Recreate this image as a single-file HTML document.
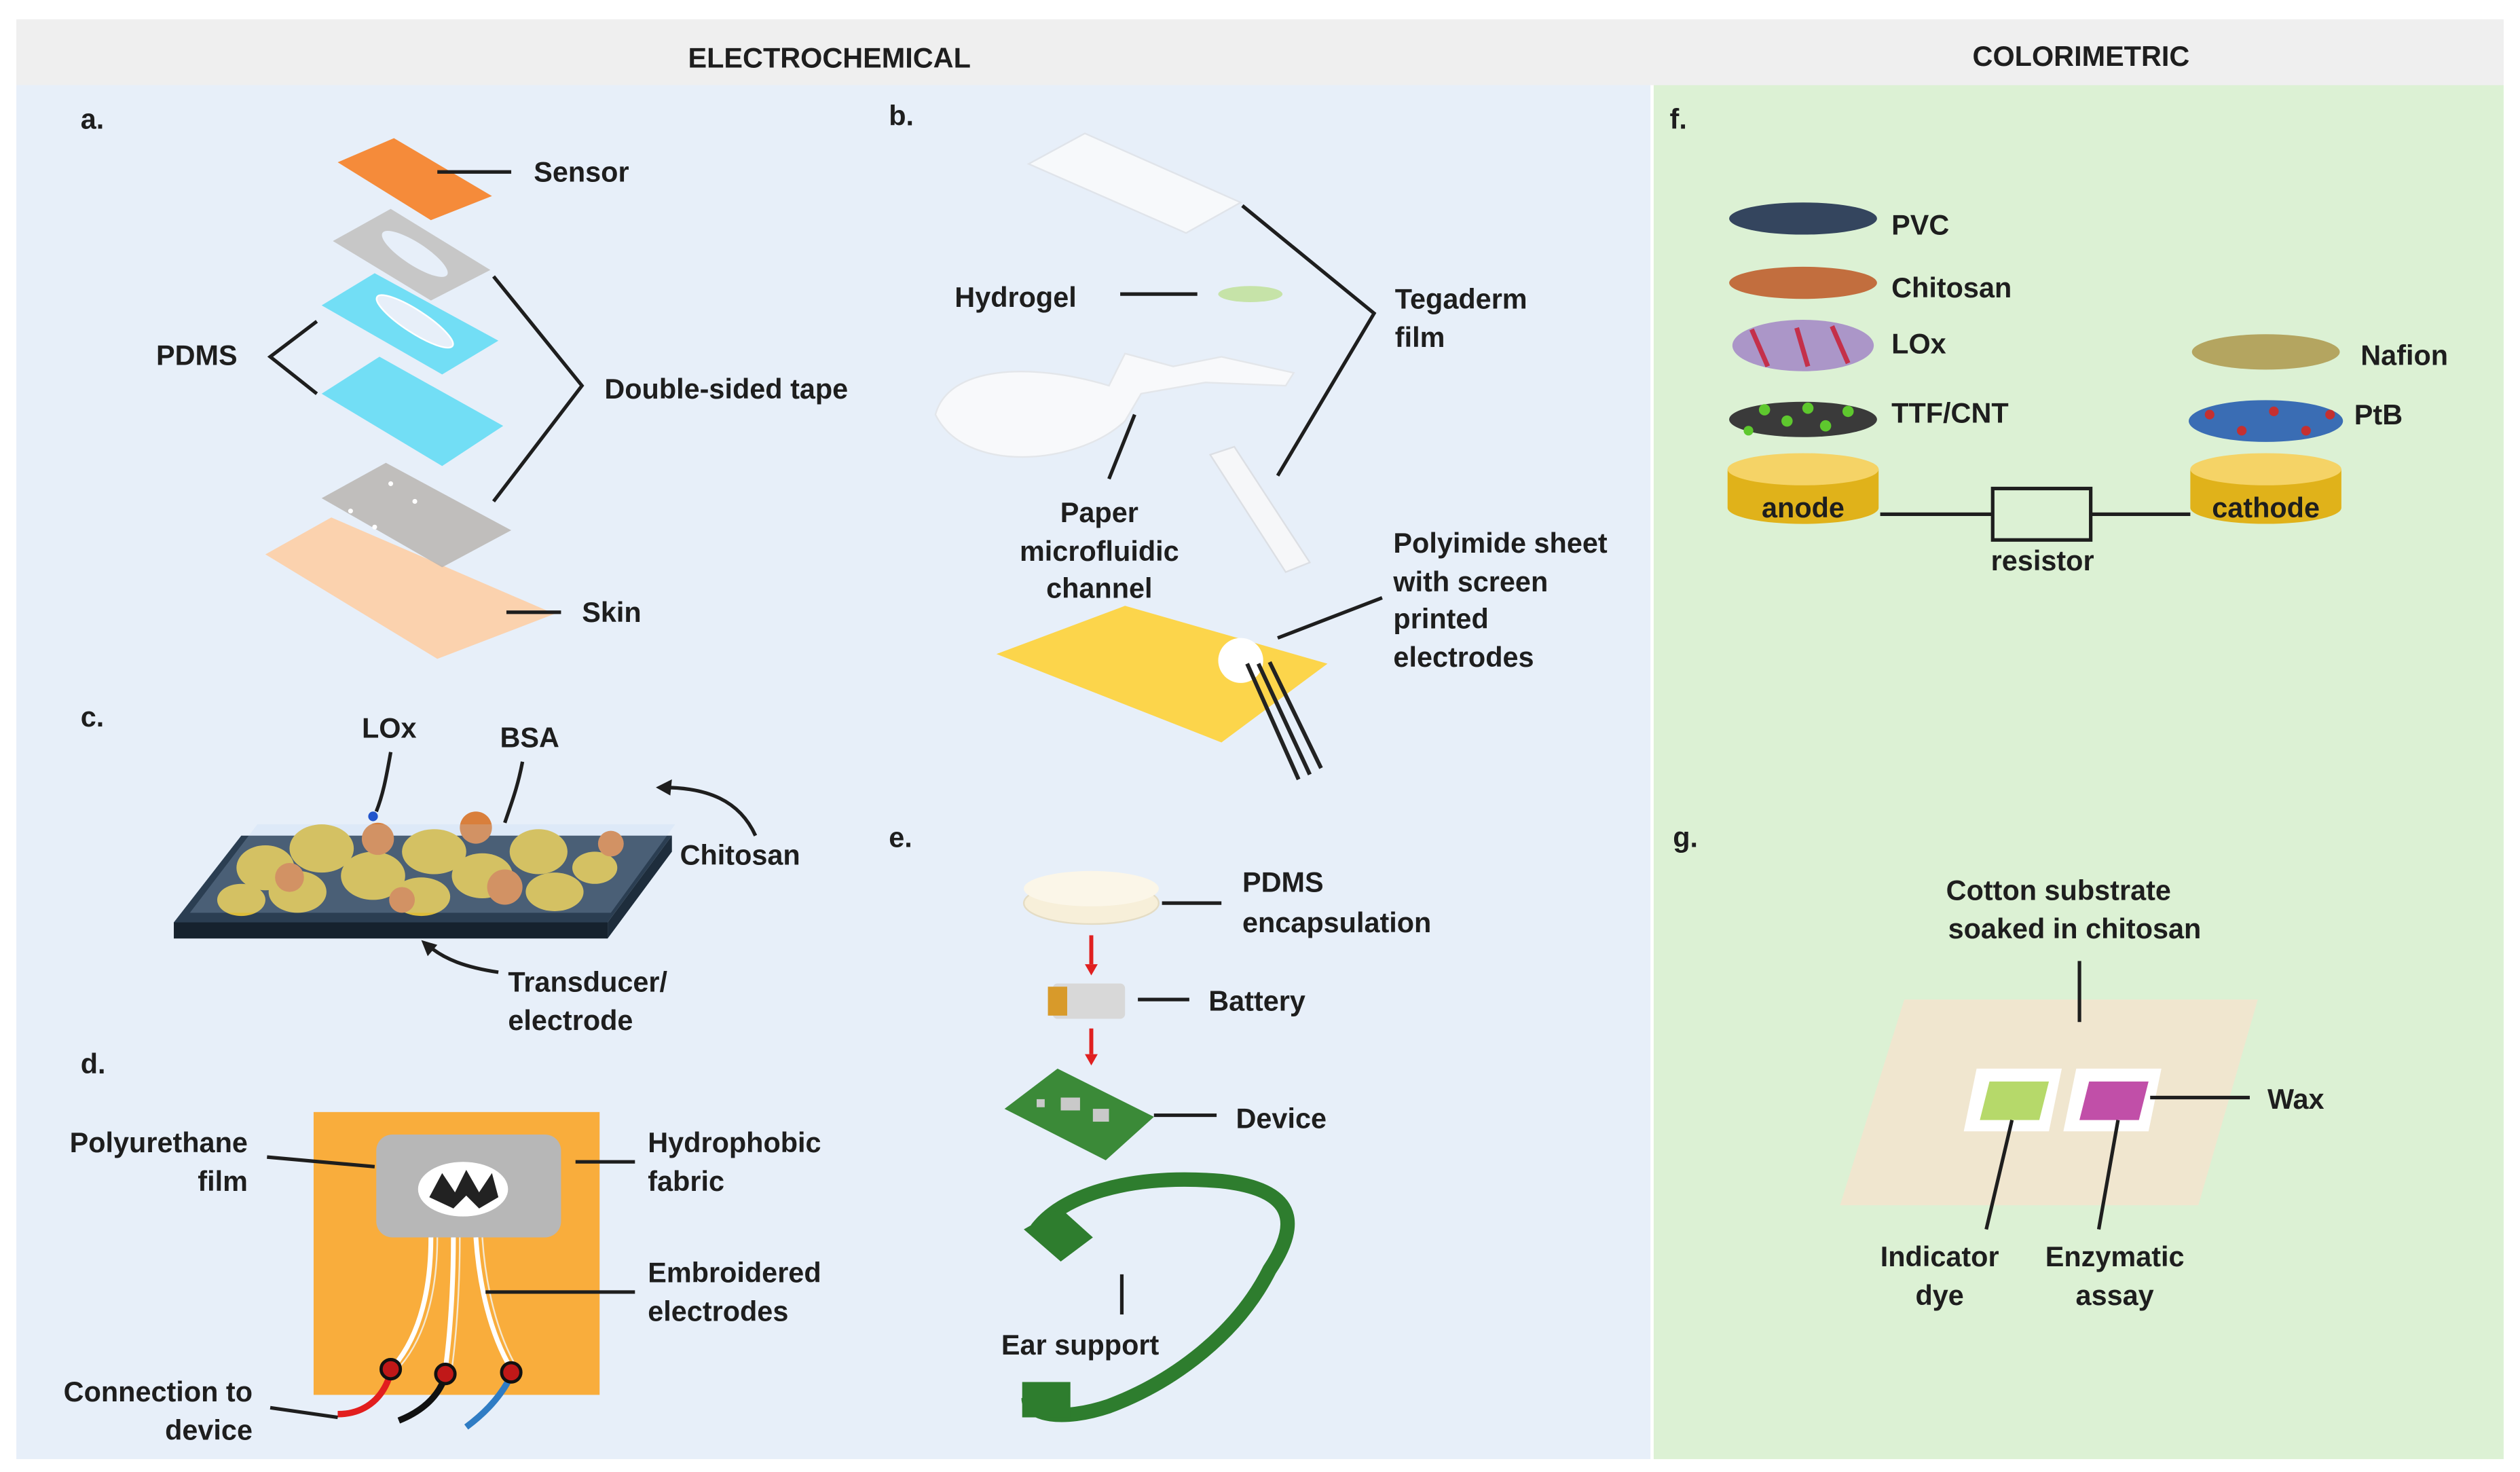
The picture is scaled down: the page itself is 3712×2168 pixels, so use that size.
<!DOCTYPE html>
<html><head><meta charset="utf-8"><style>
html,body{margin:0;padding:0;background:#fff}
svg{display:block}
text{font-family:"Liberation Sans",Arial,sans-serif;font-weight:bold;fill:#1e1e1e;font-size:17.5px}
</style></head><body>
<svg width="3712" height="2168" viewBox="0 0 1568 916" xmlns="http://www.w3.org/2000/svg">
<rect width="1568" height="916" fill="#fff"/>
<rect x="10" y="12" width="1548" height="41" fill="#efefef"/>
<rect x="10" y="53" width="1017" height="855" fill="#e7eff9"/>
<rect x="1029" y="53" width="529" height="855" fill="#dcf1d4"/>
<text x="516" y="42" text-anchor="middle" font-size="19">ELECTROCHEMICAL</text>
<text x="1295" y="41" text-anchor="middle" font-size="19">COLORIMETRIC</text>

<g font-size="17"><text x="50" y="80">a.</text><text x="553" y="78">b.</text><text x="50" y="452">c.</text><text x="50" y="668">d.</text><text x="553" y="527">e.</text><text x="1039" y="80">f.</text><text x="1041" y="527">g.</text></g>

<!-- panel a -->
<polygon points="165,345 206,322 345,382 272,410" fill="#fbd2ae"/>
<polygon points="200,310 240,288 318,330 275,353" fill="#b9b5b2" opacity="0.85"/>
<g fill="#fff"><circle cx="218" cy="318" r="1.5"/><circle cx="243" cy="301" r="1.5"/><circle cx="258" cy="312" r="1.5"/><circle cx="233" cy="328" r="1.5"/></g>
<polygon points="200,245 236,222 313,265 275,290" fill="#72def5"/>
<polygon points="200,190 233,170 310,212 275,233" fill="#72def5"/>
<ellipse cx="258" cy="200" rx="28" ry="7" transform="rotate(33 258 200)" fill="#e7eff9" stroke="#fff"/>
<polygon points="207,150 243,130 305,168 268,187" fill="#c7c7c7"/>
<ellipse cx="258" cy="158" rx="24" ry="7" transform="rotate(33 258 158)" fill="#e7eff9"/>
<polygon points="210,101 245,86 306,122 268,137" fill="#f58b3a"/>
<g stroke="#1e1e1e" stroke-width="2.2" fill="none">
<line x1="272" y1="107" x2="318" y2="107"/>
<polyline points="197,200 168,222 197,245"/>
<polyline points="307,172 362,240 307,312"/>
<line x1="315" y1="381" x2="349" y2="381"/>
</g>
<text x="332" y="113">Sensor</text><text x="97" y="227">PDMS</text><text x="376" y="248">Double-sided tape</text><text x="362" y="387">Skin</text>

<!-- panel b -->
<polygon points="640,102 675,83 772,126 738,145" fill="#f7f9fb" stroke="#e0e4ea"/>
<ellipse cx="778" cy="183" rx="20" ry="5" fill="#c6e3a8"/>
<path d="M582,258 C590,228 640,225 690,240 L700,220 L730,228 L760,222 L805,232 L800,240 L750,238 L710,245 L700,262 C670,290 600,295 582,258Z" fill="#f8f9fb" stroke="#e3e6ea"/>
<polygon points="753,283 768,278 815,350 800,356" fill="#f6f7f9" stroke="#dcdfe4"/>
<polygon points="620,407 700,377 826,413 760,462" fill="#fcd54b"/>
<circle cx="772" cy="411" r="14" fill="#fff"/>
<g stroke="#222" stroke-width="2.5"><line x1="776" y1="413" x2="808" y2="485"/><line x1="783" y1="413" x2="815" y2="482"/><line x1="790" y1="412" x2="822" y2="478"/></g>
<g stroke="#1e1e1e" stroke-width="2.2" fill="none">
<line x1="697" y1="183" x2="745" y2="183"/>
<polyline points="773,128 855,195 795,296"/>
<line x1="706" y1="258" x2="690" y2="298"/>
<line x1="795" y1="397" x2="860" y2="372"/>
</g>
<text x="594" y="191">Hydrogel</text><text x="868" y="192">Tegaderm</text><text x="868" y="216">film</text>
<g text-anchor="middle"><text x="684" y="325">Paper</text><text x="684" y="349">microfluidic</text><text x="684" y="372">channel</text></g>
<text x="867" y="344">Polyimide sheet</text><text x="867" y="368">with screen</text><text x="867" y="391">printed</text><text x="867" y="415">electrodes</text>

<!-- panel c -->
<polygon points="108,574 150,520 418,520 378,574" fill="#2b3e52"/>
<polygon points="108,574 378,574 378,584 108,584" fill="#16222e"/>
<polygon points="378,574 418,520 418,530 378,584" fill="#1e2d3c"/>
<g fill="#dcbc3a">
<ellipse cx="165" cy="540" rx="18" ry="14"/><ellipse cx="200" cy="528" rx="20" ry="15"/><ellipse cx="185" cy="555" rx="18" ry="13"/><ellipse cx="232" cy="545" rx="20" ry="15"/><ellipse cx="270" cy="530" rx="20" ry="14"/><ellipse cx="262" cy="558" rx="18" ry="12"/><ellipse cx="300" cy="545" rx="19" ry="14"/><ellipse cx="335" cy="530" rx="18" ry="14"/><ellipse cx="345" cy="555" rx="18" ry="12"/><ellipse cx="150" cy="560" rx="15" ry="10"/><ellipse cx="370" cy="540" rx="14" ry="10"/></g>
<g fill="#d97f3c"><circle cx="235" cy="522" r="10"/><circle cx="296" cy="515" r="10"/><circle cx="314" cy="552" r="11"/><circle cx="180" cy="546" r="9"/><circle cx="380" cy="525" r="8"/><circle cx="250" cy="560" r="8"/></g>
<polygon points="118,568 160,513 420,513 380,568" fill="#bcd8f5" opacity="0.22"/>
<circle cx="232" cy="508" r="3" fill="#2255cc"/>
<g stroke="#1e1e1e" stroke-width="2.2" fill="none">
<path d="M243,468 C240,485 238,495 234,505"/><path d="M325,474 C322,490 318,500 314,512"/>
<path d="M470,520 C460,498 440,490 412,490"/><path d="M310,605 C290,602 276,597 266,588"/>
</g>
<polygon points="408,490 418,485 417,495" fill="#1e1e1e"/>
<polygon points="262,585 272,588 266,595" fill="#1e1e1e"/>
<text x="225" y="459">LOx</text><text x="311" y="465">BSA</text><text x="423" y="538">Chitosan</text><text x="316" y="617">Transducer/</text><text x="316" y="641">electrode</text>

<!-- panel d -->
<rect x="195" y="692" width="178" height="176" fill="#f9ad3c"/>
<rect x="234" y="706" width="115" height="64" rx="10" fill="#b7b7b7"/>
<ellipse cx="288" cy="740" rx="28" ry="17" fill="#fff"/>
<path d="M267,745 L275,730 L283,742 L290,728 L298,742 L306,730 L310,745 L298,752 L290,744 L282,752Z" fill="#222"/>
<g stroke="#fff" stroke-width="3" fill="none"><path d="M268,770 C268,800 262,830 245,850"/><path d="M282,770 C282,800 280,830 277,852"/><path d="M296,770 C298,800 305,830 318,852"/></g>
<g stroke="#f5e8d0" stroke-width="1" fill="none"><path d="M272,770 C272,800 266,830 249,850"/><path d="M286,770 C286,800 284,830 281,852"/><path d="M300,770 C302,800 309,830 322,852"/></g>
<path d="M243,854 C238,872 225,880 210,880" stroke="#e21e1e" stroke-width="4" fill="none"/>
<path d="M277,856 C272,872 258,880 248,884" stroke="#111" stroke-width="4" fill="none"/>
<path d="M318,856 C310,872 298,882 290,888" stroke="#2f7cc4" stroke-width="4" fill="none"/>
<g fill="#c01818" stroke="#111" stroke-width="2"><circle cx="243" cy="852" r="6"/><circle cx="277" cy="855" r="6"/><circle cx="318" cy="854" r="6"/></g>
<g stroke="#1e1e1e" stroke-width="2.2" fill="none">
<line x1="166" y1="720" x2="233" y2="726"/><line x1="358" y1="723" x2="395" y2="723"/>
<line x1="302" y1="804" x2="395" y2="804"/><line x1="168" y1="876" x2="210" y2="882"/>
</g>
<g text-anchor="end"><text x="154" y="717">Polyurethane</text><text x="154" y="741">film</text><text x="157" y="872">Connection to</text><text x="157" y="896">device</text></g>
<text x="403" y="717">Hydrophobic</text><text x="403" y="741">fabric</text><text x="403" y="798">Embroidered</text><text x="403" y="822">electrodes</text>

<!-- panel e -->
<ellipse cx="679" cy="562" rx="42" ry="13" fill="#f7efd9" stroke="#e4dcc4"/>
<ellipse cx="679" cy="553" rx="42" ry="11" fill="#fbf6e8"/>
<line x1="679" y1="582" x2="679" y2="600" stroke="#e02020" stroke-width="2.5"/><polygon points="675,600 683,600 679,607" fill="#e02020"/>
<line x1="679" y1="640" x2="679" y2="656" stroke="#e02020" stroke-width="2.5"/><polygon points="675,656 683,656 679,663" fill="#e02020"/>
<rect x="655" y="612" width="45" height="22" rx="3" fill="#d8d8d8"/><rect x="652" y="614" width="12" height="18" fill="#d89a2a"/>
<polygon points="625,690 658,665 718,695 688,722" fill="#3b8a38"/>
<g fill="#c9c9c9"><rect x="660" y="683" width="12" height="8"/><rect x="680" y="690" width="10" height="8"/><rect x="645" y="684" width="5" height="5"/></g>
<path d="M645,765 C660,745 700,730 760,735 C805,740 810,760 790,790 C770,830 730,860 690,875 C660,885 640,880 640,870" stroke="#2e7d2e" stroke-width="9" fill="none"/>
<polygon points="637,765 660,752 680,770 660,785" fill="#2e7d2e"/>
<rect x="636" y="860" width="30" height="22" fill="#2e7d2e"/>
<g stroke="#1e1e1e" stroke-width="2.2" fill="none">
<line x1="723" y1="562" x2="760" y2="562"/><line x1="708" y1="622" x2="740" y2="622"/>
<line x1="718" y1="694" x2="757" y2="694"/><line x1="698" y1="793" x2="698" y2="818"/>
</g>
<text x="773" y="555">PDMS</text><text x="773" y="580">encapsulation</text><text x="752" y="629">Battery</text><text x="769" y="702">Device</text><text x="623" y="843">Ear support</text>

<!-- panel f -->
<g>
<ellipse cx="1122" cy="136" rx="46" ry="10" fill="#34455e"/>
<ellipse cx="1122" cy="176" rx="46" ry="10" fill="#c26e3e"/>
<ellipse cx="1122" cy="215" rx="44" ry="16" fill="#a58cc6" opacity="0.9"/>
<g stroke="#c4304a" stroke-width="3"><line x1="1090" y1="205" x2="1100" y2="228"/><line x1="1118" y1="204" x2="1125" y2="228"/><line x1="1140" y1="203" x2="1150" y2="226"/></g>
<ellipse cx="1122" cy="261" rx="46" ry="11" fill="#3a3a3a"/>
<g fill="#5ec82e"><circle cx="1098" cy="255" r="3.5"/><circle cx="1112" cy="262" r="3.5"/><circle cx="1125" cy="254" r="3.5"/><circle cx="1136" cy="265" r="3.5"/><circle cx="1150" cy="256" r="3.5"/><circle cx="1088" cy="268" r="3"/></g>
<ellipse cx="1410" cy="219" rx="46" ry="11" fill="#b4a560"/>
<ellipse cx="1410" cy="262" rx="48" ry="13" fill="#3a6db4"/>
<g fill="#c43030"><circle cx="1375" cy="258" r="3"/><circle cx="1395" cy="268" r="3"/><circle cx="1415" cy="256" r="3"/><circle cx="1435" cy="268" r="3"/><circle cx="1450" cy="258" r="3"/></g>
</g>
<text x="1177" y="146">PVC</text><text x="1177" y="185">Chitosan</text><text x="1177" y="220">LOx</text><text x="1177" y="263">TTF/CNT</text>
<text x="1469" y="227">Nafion</text><text x="1465" y="264">PtB</text>
<g>
<path d="M1075,292 L1075,316 A47,10 0 0 0 1169,316 L1169,292Z" fill="#e0b21a"/>
<ellipse cx="1122" cy="292" rx="47" ry="10" fill="#f5d366"/>
<path d="M1363,292 L1363,316 A47,10 0 0 0 1457,316 L1457,292Z" fill="#e0b21a"/>
<ellipse cx="1410" cy="292" rx="47" ry="10" fill="#f5d366"/>
</g>
<text x="1122" y="322" text-anchor="middle" font-size="16.5">anode</text>
<text x="1410" y="322" text-anchor="middle" font-size="16.5">cathode</text>
<g stroke="#1e1e1e" stroke-width="2.2" fill="none"><line x1="1170" y1="320" x2="1240" y2="320"/><rect x="1240" y="304" width="61" height="32"/><line x1="1301" y1="320" x2="1363" y2="320"/></g>
<text x="1271" y="355" text-anchor="middle" font-size="16.5">resistor</text>

<!-- panel g -->
<polygon points="1185,622 1405,622 1368,750 1145,750" fill="#f0e6cf"/>
<polygon points="1230,665 1283,665 1275,704 1222,704" fill="#fff"/>
<polygon points="1238,673 1275,673 1269,697 1232,697" fill="#b6d96a"/>
<polygon points="1292,665 1345,665 1337,704 1284,704" fill="#fff"/>
<polygon points="1300,673 1337,673 1331,697 1294,697" fill="#c14fa8"/>
<g stroke="#1e1e1e" stroke-width="2.2" fill="none">
<line x1="1294" y1="598" x2="1294" y2="636"/><line x1="1338" y1="683" x2="1400" y2="683"/>
<line x1="1252" y1="697" x2="1236" y2="765"/><line x1="1318" y1="697" x2="1306" y2="765"/>
</g>
<g text-anchor="middle"><text x="1281" y="560">Cotton substrate</text><text x="1291" y="584">soaked in chitosan</text>
<text x="1207" y="788">Indicator</text><text x="1207" y="812">dye</text><text x="1316" y="788">Enzymatic</text><text x="1316" y="812">assay</text></g>
<text x="1411" y="690">Wax</text>
</svg>
</body></html>
